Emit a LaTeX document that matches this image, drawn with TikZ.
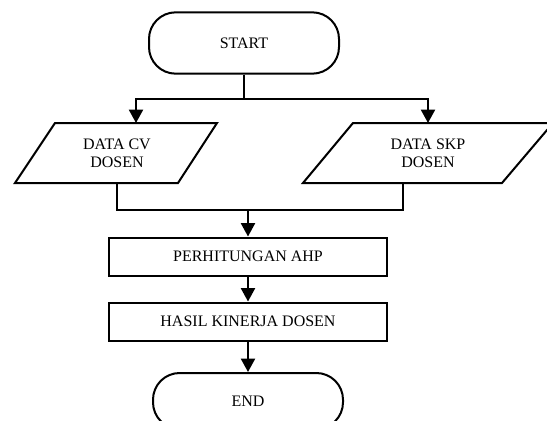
\documentclass[tikz,border=0pt]{standalone}
\usepackage{fontspec}
\setmainfont{Liberation Serif}
\usetikzlibrary{arrows.meta}

\tikzset{
    terminal/.style={draw, line width=1.5pt, rounded corners=20pt,
        minimum width=142.5pt, minimum height=46pt},
    io/.style={line width=1.5pt, line join=miter},
    iotext/.style={align=center},
    process/.style={draw, line width=1.5pt, minimum width=209pt,
        minimum height=28.5pt},
    flow/.style={line width=1.5pt},
    arrow/.style={flow, -{Triangle[width=10.5pt,length=10pt]}}
}

\begin{document}
\begin{tikzpicture}[x=0.75pt, y=-0.75pt,
    every node/.style={font=\fontsize{12}{13.5}\selectfont}]
    \useasboundingbox (0, 0) rectangle (547, 421);
    % Start
    \node[terminal] (start) at (244, 43) {START};
    % Input data
    \draw[io] (55, 123) -- (217, 123) -- (178, 183) -- (15, 183) -- cycle;
    \node[iotext] (cv) at (117, 153) {DATA CV\\DOSEN};
    \coordinate (cvin) at (136, 123);
    \coordinate (cvout) at (117, 183);
    \draw[io] (353, 123) -- (553, 123) -- (502, 183) -- (303, 183) -- cycle;
    \node[iotext] (skp) at (428, 153) {DATA SKP\\DOSEN};
    \coordinate (skpin) at (428, 123);
    \coordinate (skpout) at (403, 183);
    % Process
    \node[process] (ahp) at (248, 256.5) {PERHITUNGAN AHP};
    \node[process] (hasil) at (248, 321.5) {HASIL KINERJA DOSEN};
    % End
    \node[terminal, minimum height=42pt] (end) at (248, 401) {END};
    % Connectors
    \coordinate (split) at (244, 99);
    \coordinate (merge) at (248, 210);
    \draw[flow] (start) -- (split);
    \draw[arrow] (split) -| (cvin);
    \draw[arrow] (split) -| (skpin);
    \draw[flow] (cvout) |- (merge) -| (skpout);
    \draw[arrow] (merge) -- (ahp);
    \draw[arrow] (ahp) -- (hasil);
    \draw[arrow] (hasil) -- (end);
\end{tikzpicture}
\end{document}
